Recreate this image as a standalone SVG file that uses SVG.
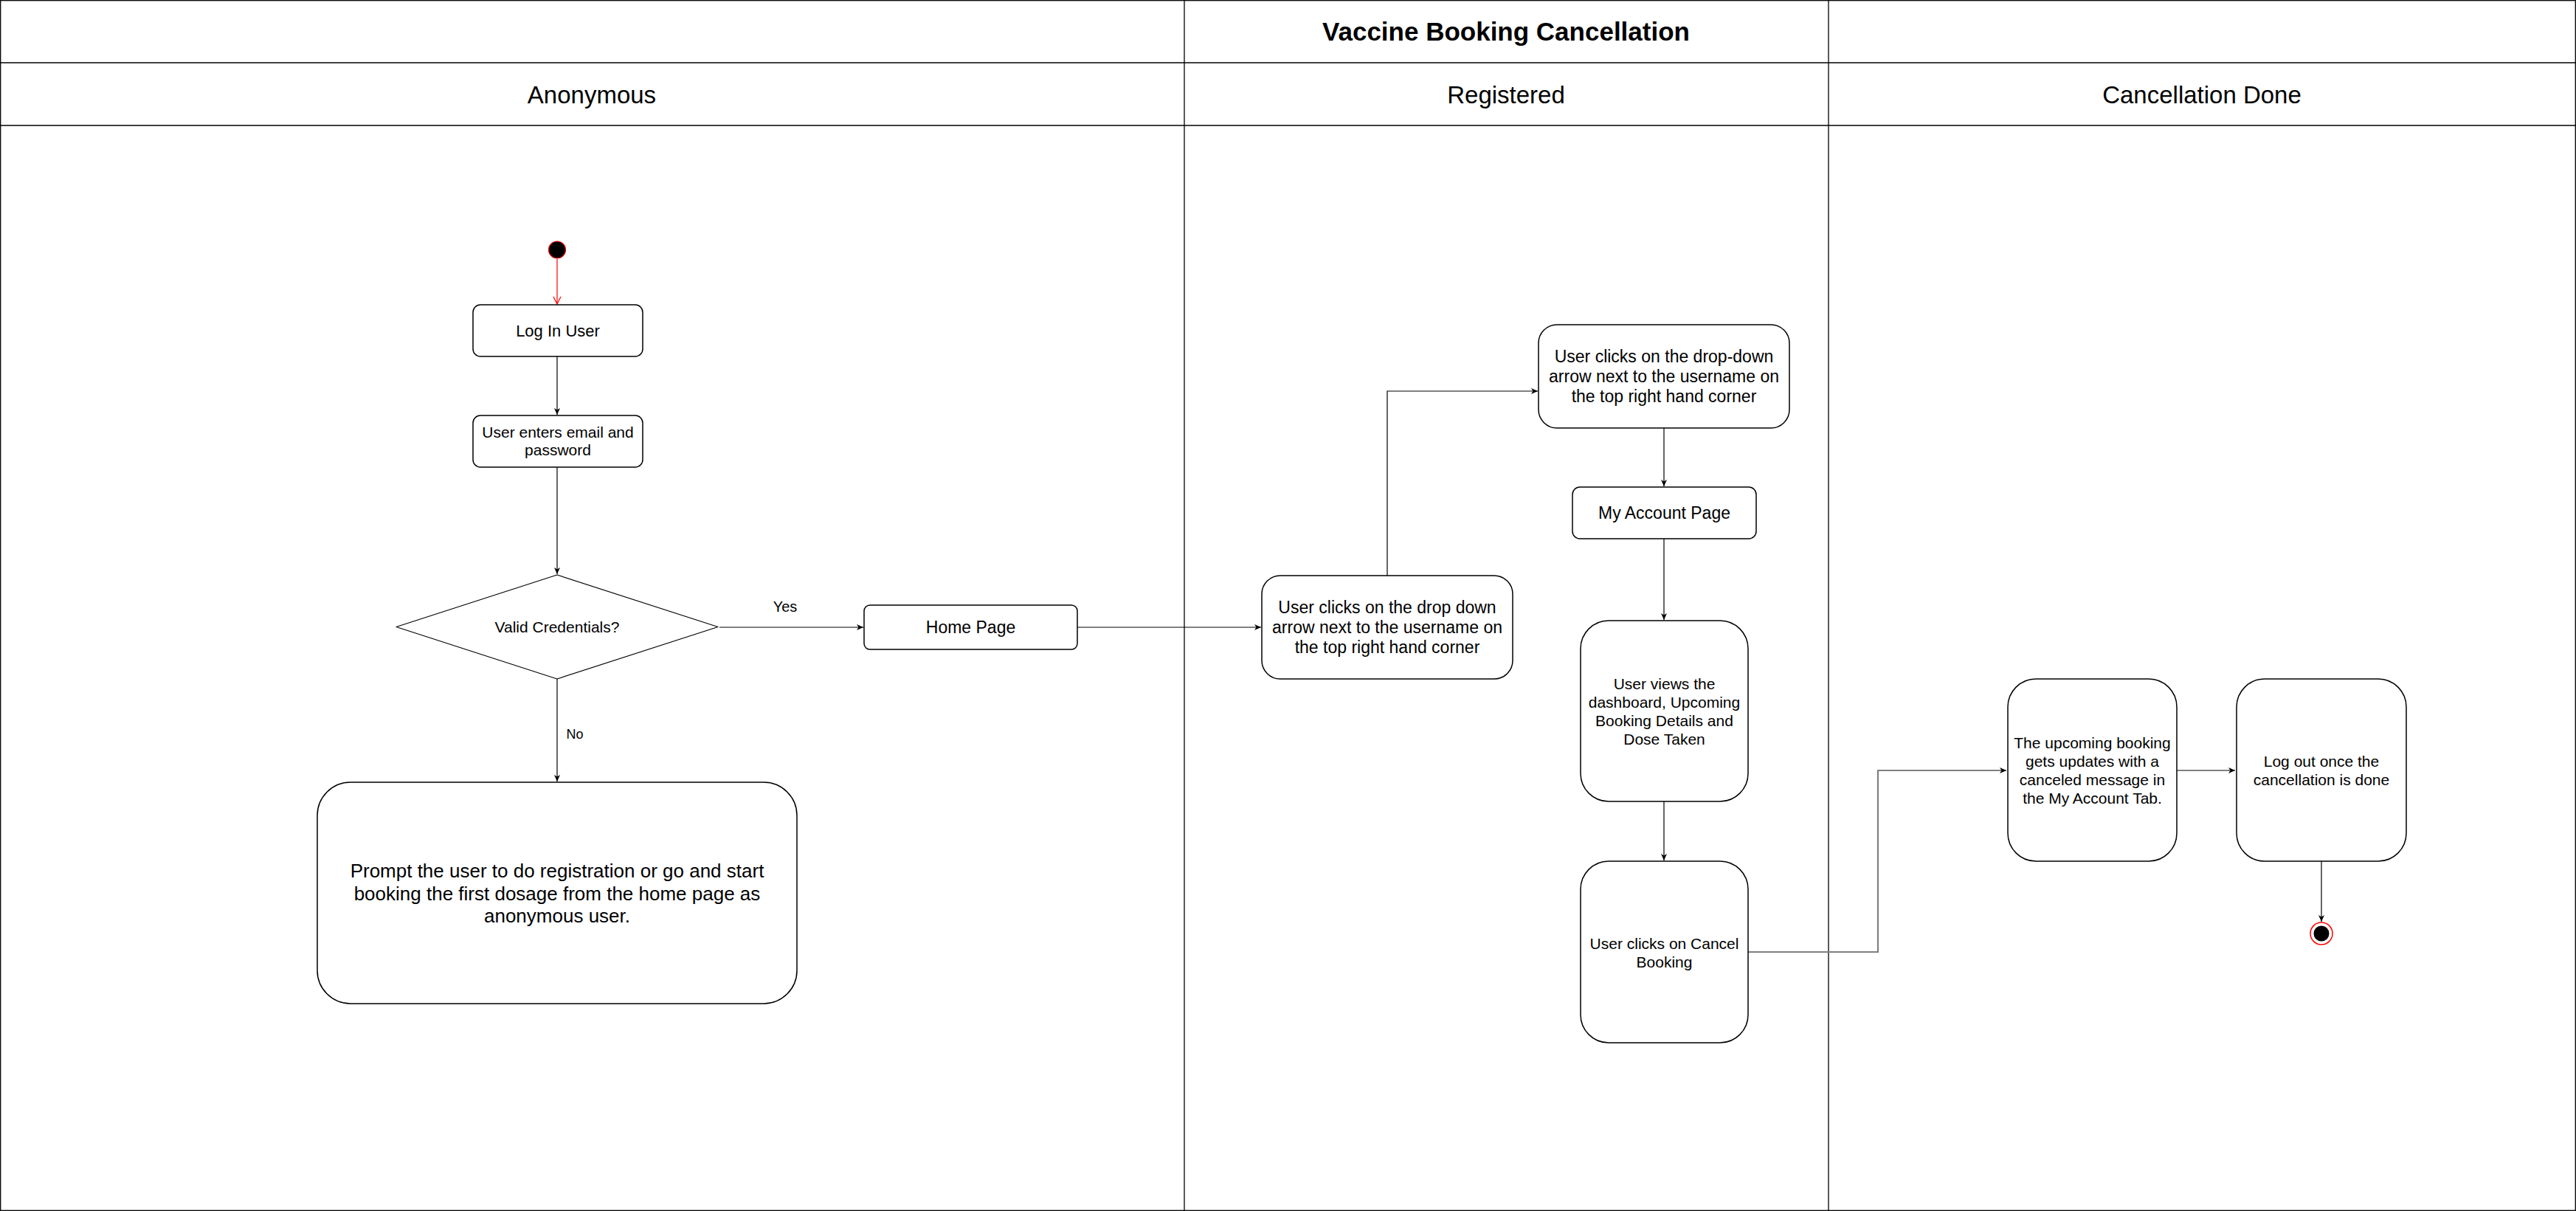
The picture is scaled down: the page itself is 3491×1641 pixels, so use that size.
<svg xmlns="http://www.w3.org/2000/svg" width="3491" height="1641" viewBox="0 0 3491 1641">
<style>
.lane{fill:none;stroke:#000;stroke-width:1.3}
.box{fill:#fff;stroke:#000;stroke-width:1.5}
.t{font-family:"Liberation Sans",Arial,sans-serif;fill:#000;text-anchor:middle}
.c{fill:none;stroke:#000;stroke-width:1.2}
.g{fill:none;stroke:#808080;stroke-width:2.2}
</style>
<defs>
<marker id="arr" markerUnits="userSpaceOnUse" markerWidth="12" markerHeight="12" refX="10" refY="6" orient="auto">
<path d="M1,2 L10,6 L1,10 L3.5,6 Z" fill="#000"/>
</marker>
<marker id="open" markerUnits="userSpaceOnUse" markerWidth="14" markerHeight="14" refX="12" refY="7" orient="auto">
<path d="M2,2 L12,7 L2,12" fill="none" stroke="#f00" stroke-width="1.2"/>
</marker>
</defs>
<rect width="3491" height="1641" fill="#fff"/>
<g id="pool">
<rect class="lane" x="0.7" y="0.7" width="3489.6" height="1639.6"/>
<line class="lane" x1="0" y1="85" x2="3491" y2="85"/>
<line class="lane" x1="0" y1="170" x2="3491" y2="170"/>
<line class="lane" x1="1605" y1="0" x2="1605" y2="1641"/>
<line class="lane" x1="2478" y1="0" x2="2478" y2="1641"/>
<text class="t" x="2041" y="55" font-size="35" font-weight="bold">Vaccine Booking Cancellation</text>
<text class="t" x="802" y="139.5" font-size="33">Anonymous</text>
<text class="t" x="2041" y="139.5" font-size="33">Registered</text>
<text class="t" x="2984" y="139.5" font-size="33">Cancellation Done</text>
</g>
<g id="connectors">
<line x1="755" y1="351" x2="755" y2="412" fill="none" stroke="#f00" stroke-width="1.2" marker-end="url(#open)"/>
<line class="c" x1="755" y1="483" x2="755" y2="562" marker-end="url(#arr)"/>
<line class="c" x1="755" y1="633" x2="755" y2="778" marker-end="url(#arr)"/>
<line class="c" x1="975" y1="850" x2="1170" y2="850" marker-end="url(#arr)"/>
<line class="c" x1="755" y1="920" x2="755" y2="1059" marker-end="url(#arr)"/>
<line class="c" x1="1460" y1="850" x2="1709" y2="850" marker-end="url(#arr)"/>
<polyline class="c" points="1880,780 1880,530 2084,530" marker-end="url(#arr)"/>
<line class="c" x1="2255" y1="580" x2="2255" y2="659" marker-end="url(#arr)"/>
<line class="c" x1="2255" y1="730" x2="2255" y2="840" marker-end="url(#arr)"/>
<line class="c" x1="2255" y1="1086" x2="2255" y2="1166" marker-end="url(#arr)"/>
<polyline class="g" points="2369,1290 2545,1290 2545,1044 2719,1044" marker-end="url(#arr)"/>
<line class="g" x1="2950" y1="1044" x2="3029" y2="1044" marker-end="url(#arr)"/>
<line class="c" x1="3146" y1="1167" x2="3146" y2="1249" marker-end="url(#arr)"/>
<text class="t" x="1064" y="829" font-size="20">Yes</text>
<text class="t" x="779" y="1001" font-size="18">No</text>
</g>
<g id="start">
<circle cx="755" cy="338.5" r="11.5" fill="#000" stroke="#f00" stroke-width="1.2"/>
</g>
<g id="login">
<rect class="box" x="641" y="413" width="230" height="70" rx="10"/>
<text class="t" x="756" y="456" font-size="22">Log In User</text>
</g>
<g id="enter">
<rect class="box" x="641" y="563" width="230" height="70" rx="10"/>
<text class="t" font-size="21"><tspan x="756" y="593">User enters email and</tspan><tspan x="756" y="617">password</tspan></text>
</g>
<g id="valid">
<path d="M755,779 L973,849.5 L755,920 L537,849.5 Z" fill="#fff" stroke="#000" stroke-width="1.2" stroke-linejoin="round"/>
<text class="t" x="755" y="857" font-size="21">Valid Credentials?</text>
</g>
<g id="home">
<rect class="box" x="1171" y="820" width="289" height="60" rx="8"/>
<text class="t" x="1315.5" y="858" font-size="23">Home Page</text>
</g>
<g id="prompt">
<rect class="box" x="430" y="1060" width="650" height="300" rx="45"/>
<text class="t" font-size="26"><tspan x="755" y="1189">Prompt the user to do registration or go and start</tspan><tspan x="755" y="1219.5">booking the first dosage from the home page as</tspan><tspan x="755" y="1250">anonymous user.</tspan></text>
</g>
<g id="dropdown1">
<rect class="box" x="1710" y="780" width="340" height="140" rx="25"/>
<text class="t" font-size="23"><tspan x="1880" y="831.3">User clicks on the drop down</tspan><tspan x="1880" y="858">arrow next to the username on</tspan><tspan x="1880" y="884.7">the top right hand corner</tspan></text>
</g>
<g id="dropdown2">
<rect class="box" x="2085" y="440" width="340" height="140" rx="25"/>
<text class="t" font-size="23"><tspan x="2255" y="491.3">User clicks on the drop-down</tspan><tspan x="2255" y="518">arrow next to the username on</tspan><tspan x="2255" y="544.7">the top right hand corner</tspan></text>
</g>
<g id="account">
<rect class="box" x="2131" y="660" width="249" height="70" rx="10"/>
<text class="t" x="2255.5" y="703" font-size="23">My Account Page</text>
</g>
<g id="views">
<rect class="box" x="2142" y="841" width="227" height="245" rx="38"/>
<text class="t" font-size="21"><tspan x="2255.5" y="933.5">User views the</tspan><tspan x="2255.5" y="958.5">dashboard, Upcoming</tspan><tspan x="2255.5" y="983.5">Booking Details and</tspan><tspan x="2255.5" y="1008.5">Dose Taken</tspan></text>
</g>
<g id="cancel">
<rect class="box" x="2142" y="1167" width="227" height="246" rx="38"/>
<text class="t" font-size="21"><tspan x="2255.5" y="1286">User clicks on Cancel</tspan><tspan x="2255.5" y="1310.5">Booking</tspan></text>
</g>
<g id="upcoming">
<rect class="box" x="2721" y="920" width="229" height="247" rx="38"/>
<text class="t" font-size="21"><tspan x="2835.5" y="1013.5">The upcoming booking</tspan><tspan x="2835.5" y="1038.8">gets updates with a</tspan><tspan x="2835.5" y="1064.1">canceled message in</tspan><tspan x="2835.5" y="1089.4">the My Account Tab.</tspan></text>
</g>
<g id="logout">
<rect class="box" x="3031" y="920" width="230" height="247" rx="38"/>
<text class="t" font-size="21"><tspan x="3146" y="1039">Log out once the</tspan><tspan x="3146" y="1064">cancellation is done</tspan></text>
</g>
<g id="end">
<circle cx="3146" cy="1265" r="15" fill="#fff" stroke="#f00" stroke-width="1.5"/>
<circle cx="3146" cy="1265" r="10.5" fill="#000"/>
</g>
</svg>
